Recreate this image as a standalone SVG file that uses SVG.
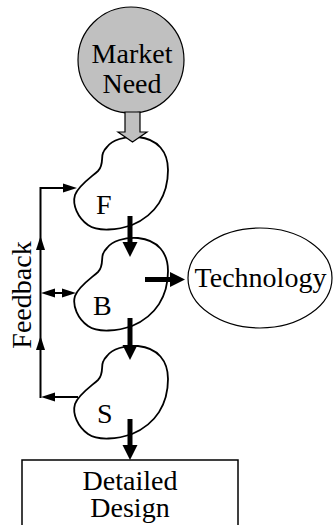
<svg xmlns="http://www.w3.org/2000/svg" width="333" height="525" viewBox="0 0 333 525">
  <style>
    .label { font-family: 'Liberation Serif', 'Times New Roman', Times, serif; font-size: 28px; fill: #000; }
    .mid { text-anchor: middle; }
    .blob { fill: #fff; stroke: #000; stroke-width: 1.8; }
    .thick { stroke: #000; stroke-width: 5; fill: none; }
    .thin { stroke: #000; stroke-width: 2; fill: none; }
  </style>
  <defs>
    <path id="blobShape" d="M 107,147 C 112,140 125,136 138,137 C 158,139 168,152 168,170 C 168,195 156,215 132,225 C 118,230 98,232 88,225 C 78,218 72,205 75,195 C 78,186 90,178 98,171 C 104,165 101,157 103,153 C 104,150 105,149 107,147 Z"/>
    <marker id="bigHead" markerUnits="userSpaceOnUse" markerWidth="16" markerHeight="16" refX="0" refY="7.5" orient="auto" overflow="visible">
      <path d="M0,0 L15,7.5 L0,15 Z" fill="#000"/>
    </marker>
    <marker id="smallHead" markerUnits="userSpaceOnUse" markerWidth="14" markerHeight="10" refX="0" refY="4.5" orient="auto" overflow="visible">
      <path d="M0,0 L14,4.5 L0,9 Z" fill="#000"/>
    </marker>
    <marker id="smallHeadStart" markerUnits="userSpaceOnUse" markerWidth="14" markerHeight="10" refX="0" refY="4.5" orient="auto-start-reverse" overflow="visible">
      <path d="M0,0 L14,4.5 L0,9 Z" fill="#000"/>
    </marker>
  </defs>

  <g id="market-need">
    <ellipse cx="131" cy="60" rx="53" ry="53" fill="#c0c0c0" stroke="#000" stroke-width="1.2"/>
    <text class="label mid" font-family="Liberation Serif, serif" x="132" y="63">Market</text>
    <text class="label mid" font-family="Liberation Serif, serif" x="132" y="93">Need</text>
  </g>

  <g id="node-f">
    <use href="#blobShape" class="blob"/>
    <text class="label" font-family="Liberation Serif, serif" x="96" y="214">F</text>
  </g>

  <g id="node-b">
    <use href="#blobShape" class="blob" transform="translate(0,101)"/>
    <text class="label" font-family="Liberation Serif, serif" x="93" y="315">B</text>
  </g>

  <g id="node-s">
    <use href="#blobShape" class="blob" transform="translate(0,209)"/>
    <text class="label" font-family="Liberation Serif, serif" x="97" y="423">S</text>
  </g>

  <g id="technology">
    <ellipse cx="260" cy="278" rx="72" ry="50" fill="#fff" stroke="#000" stroke-width="1.2"/>
    <text class="label mid" font-family="Liberation Serif, serif" x="260.5" y="287">Technology</text>
  </g>

  <g id="detailed-design">
    <rect x="22" y="460" width="216" height="80" fill="#fff" stroke="#000" stroke-width="1.5"/>
    <text class="label mid" font-family="Liberation Serif, serif" x="130" y="490">Detailed</text>
    <text class="label mid" font-family="Liberation Serif, serif" x="130" y="517">Design</text>
  </g>

  <g id="connectors">
    <!-- market need feeds F -->
    <polygon points="125,112 140,112 140,132 147,132 132.5,142 118,132 125,132" fill="#c0c0c0" stroke="#000" stroke-width="1.2"/>
    <!-- main flow -->
    <line class="thick" x1="130" y1="216" x2="130" y2="242" marker-end="url(#bigHead)"/>
    <line class="thick" x1="130" y1="318" x2="130" y2="345" marker-end="url(#bigHead)"/>
    <line class="thick" x1="130" y1="419" x2="130" y2="445" marker-end="url(#bigHead)"/>
    <line class="thick" x1="145" y1="279.5" x2="170" y2="279.5" marker-end="url(#bigHead)"/>
    <!-- feedback loop -->
    <path class="thin" d="M 78,397 H 55" marker-end="url(#smallHead)"/>
    <path class="thin" d="M 40.5,398 V 350" marker-end="url(#smallHead)"/>
    <path class="thin" d="M 40.5,350 V 250" marker-end="url(#smallHead)"/>
    <path class="thin" d="M 40.5,250 V 188 H 63" marker-end="url(#smallHead)"/>
    <path class="thin" d="M 55,293 H 62" marker-start="url(#smallHeadStart)" marker-end="url(#smallHead)"/>
  </g>

  <g id="feedback-label">
    <text class="label mid" font-family="Liberation Serif, serif" transform="translate(31,295) rotate(-90)">Feedback</text>
  </g>
</svg>
